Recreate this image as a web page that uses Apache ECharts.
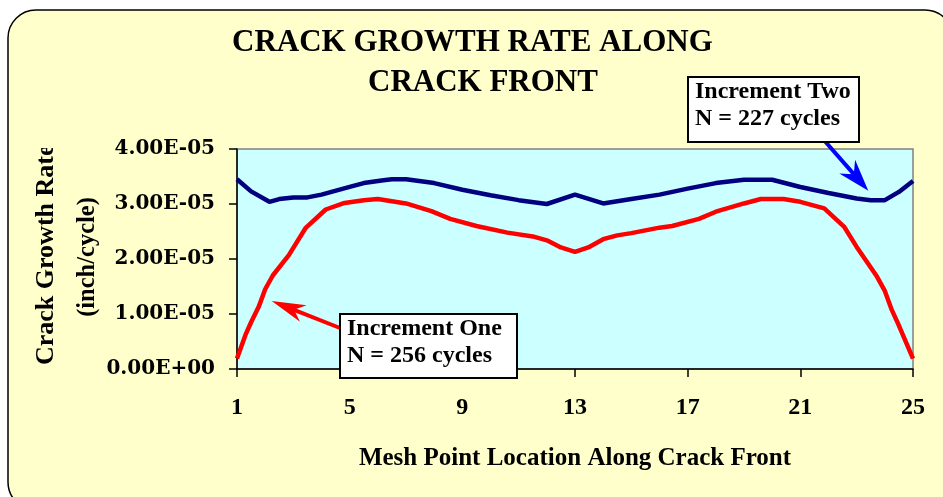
<!DOCTYPE html>
<html>
<head>
<meta charset="utf-8">
<script src="https://cdn.jsdelivr.net/npm/echarts@6/dist/echarts.min.js"></script>
<style>
  html, body { margin: 0; padding: 0; background: #ffffff; }
  #chart { width: 943px; height: 497px; }
</style>
</head>
<body>
<div id="chart"></div>
<script>
// ---- data ----
const xTickLabels = [1, 5, 9, 13, 17, 21, 25];

// Increment Two (N = 227 cycles)
const blueX = [1, 1.5, 2.15, 2.5, 3, 3.5, 4, 5, 5.5, 6.2, 6.5, 7, 8, 9, 10, 11, 12, 13, 14, 15, 16, 17, 18, 19, 20, 21, 22, 23, 23.5, 24, 24.5, 25];
const blueY = [3.45e-5, 3.23e-5, 3.04e-5, 3.09e-5, 3.12e-5, 3.12e-5, 3.17e-5, 3.31e-5, 3.38e-5, 3.43e-5, 3.45e-5, 3.45e-5, 3.38e-5, 3.26e-5, 3.16e-5, 3.07e-5, 3.00e-5, 3.17e-5, 3.01e-5, 3.09e-5, 3.17e-5, 3.28e-5, 3.38e-5, 3.44e-5, 3.44e-5, 3.31e-5, 3.20e-5, 3.10e-5, 3.07e-5, 3.07e-5, 3.22e-5, 3.42e-5];

// Increment One (N = 256 cycles)
const redX = [1, 1.3, 1.5, 1.77, 2, 2.27, 2.84, 3.43, 4.15, 4.82, 5.5, 6, 7, 7.9, 8.57, 9.5, 10.6, 11.5, 12, 12.5, 13, 13.47, 14, 14.5, 15, 16, 16.45, 17.4, 18, 19, 19.6, 20.4, 21, 21.85, 22.55, 23, 23.72, 24, 24.25, 24.5, 25];
const redY = [0.19e-5, 0.62e-5, 0.85e-5, 1.13e-5, 1.45e-5, 1.70e-5, 2.07e-5, 2.56e-5, 2.90e-5, 3.02e-5, 3.07e-5, 3.09e-5, 3.01e-5, 2.87e-5, 2.73e-5, 2.60e-5, 2.48e-5, 2.41e-5, 2.34e-5, 2.21e-5, 2.13e-5, 2.21e-5, 2.36e-5, 2.43e-5, 2.47e-5, 2.57e-5, 2.60e-5, 2.73e-5, 2.86e-5, 3.01e-5, 3.09e-5, 3.09e-5, 3.04e-5, 2.92e-5, 2.59e-5, 2.22e-5, 1.68e-5, 1.42e-5, 1.07e-5, 0.79e-5, 0.19e-5];

// ---- helpers ----
function zip(xs, ys) { return xs.map((x, i) => [x, ys[i]]); }
function sciFmt(v) {
  return Number(v).toExponential(2).replace(/e([+-])(\d)$/, 'E$10$2').replace(/e([+-])(\d\d)$/, 'E$1$2');
}
function arrow(x1, y1, x2, y2, color, headLen, halfW, notch, width) {
  const dx = x2 - x1, dy = y2 - y1, L = Math.hypot(dx, dy);
  const ux = dx / L, uy = dy / L, nx = -uy, ny = ux;
  const bx = x2 - ux * headLen, by = y2 - uy * headLen;
  const mx = x2 - ux * notch, my = y2 - uy * notch;
  return [
    { type: 'line', z: 50, shape: { x1: x1, y1: y1, x2: mx + ux * 2, y2: my + uy * 2 },
      style: { stroke: color, lineWidth: width } },
    { type: 'polygon', z: 50, shape: { points: [[x2, y2], [bx + nx * halfW, by + ny * halfW], [mx, my], [bx - nx * halfW, by - ny * halfW]] },
      style: { fill: color } }
  ];
}
function noteBox(x, y, w, h, lines) {
  return [
    { type: 'rect', z: 60, shape: { x: x, y: y, width: w, height: h },
      style: { fill: '#ffffff', stroke: '#000000', lineWidth: 2 } },
    { type: 'text', z: 61, x: x + 7, y: y + 15,
      style: { text: lines[0], font: 'bold 24px "Liberation Serif"', fill: '#000', verticalAlign: 'middle', align: 'left' } },
    { type: 'text', z: 61, x: x + 7, y: y + 42,
      style: { text: lines[1], font: 'bold 24px "Liberation Serif"', fill: '#000', verticalAlign: 'middle', align: 'left' } }
  ];
}

const chart = echarts.init(document.getElementById('chart'), null, { renderer: 'canvas' });

const graphics = [
  { type: 'rect', z: -10, shape: { x: 8, y: 10, width: 945, height: 500, r: 28 },
    style: { fill: '#FFFFCC', stroke: '#000000', lineWidth: 1.5 } },
  // y axis title (two lines, first one clipped at the top like the original)
  { type: 'text', z: 40, x: 46, y: 365, rotation: Math.PI / 2,
    style: { text: 'Crack Growth Rate', font: 'bold 26px "Liberation Serif"', fill: '#000', align: 'left', verticalAlign: 'middle' } },
  { type: 'rect', z: 41, shape: { x: 25, y: 110, width: 45, height: 38 },
    style: { fill: '#FFFFCC' } },
  { type: 'text', z: 40, x: 88, y: 257, rotation: Math.PI / 2,
    style: { text: '(inch/cycle)', font: 'bold 24.5px "Liberation Serif"', fill: '#000', align: 'center', verticalAlign: 'middle' } }
]
  .concat(arrow(340, 328, 271.7, 301, '#FF0000', 34, 9, 24, 4))
  .concat(arrow(823, 139, 868.3, 190.7, '#0000FF', 32, 10.5, 22, 4))
  .concat(noteBox(340, 314, 177, 64, ['Increment One', 'N = 256 cycles']))
  .concat(noteBox(688, 77, 171, 65, ['Increment Two', 'N = 227 cycles']));

const option = {
  backgroundColor: 'transparent',
  animation: false,
  title: [
    { text: 'CRACK GROWTH RATE ALONG', left: 232, top: 27, padding: 0,
      textStyle: { fontFamily: 'Liberation Serif', fontWeight: 'bold', fontSize: 31, color: '#000' } },
    { text: 'CRACK FRONT', left: 368, top: 67, padding: 0,
      textStyle: { fontFamily: 'Liberation Serif', fontWeight: 'bold', fontSize: 31, color: '#000' } }
  ],
  grid: {
    left: 237, right: 30, top: 149, bottom: 128,
    show: true, backgroundColor: '#CCFFFF', borderColor: '#808080', borderWidth: 1.5
  },
  xAxis: {
    type: 'value', min: 1, max: 25,
    name: 'Mesh Point Location Along Crack Front',
    nameLocation: 'middle', nameGap: 77,
    nameTextStyle: { fontFamily: 'Liberation Serif', fontWeight: 'bold', fontSize: 25, color: '#000' },
    axisLine: { show: true, onZero: false, lineStyle: { color: '#000', width: 1.5 } },
    axisTick: { show: true, inside: false, length: 8, customValues: xTickLabels, lineStyle: { color: '#000', width: 1.5 } },
    axisLabel: { customValues: xTickLabels, margin: 27, fontFamily: 'Liberation Serif', fontWeight: 'bold', fontSize: 24, color: '#000' },
    splitLine: { show: false }
  },
  yAxis: {
    type: 'value', min: 0, max: 4e-5, interval: 1e-5,
    axisLine: { show: true, lineStyle: { color: '#000', width: 1.5 } },
    axisTick: { show: true, inside: false, length: 8, lineStyle: { color: '#000', width: 1.5 } },
    axisLabel: { margin: 22, padding: [6, 0, 0, 0], formatter: sciFmt, fontFamily: 'DejaVu Serif', fontWeight: 'bold', fontSize: 20, color: '#000' },
    splitLine: { show: false }
  },
  series: [
    { name: 'Increment One', type: 'line', data: zip(redX, redY), showSymbol: false, symbol: 'none',
      lineStyle: { color: '#FF0000', width: 4.5 }, itemStyle: { color: '#FF0000' }, z: 3 },
    { name: 'Increment Two', type: 'line', data: zip(blueX, blueY), showSymbol: false, symbol: 'none',
      lineStyle: { color: '#000080', width: 4.5 }, itemStyle: { color: '#000080' }, z: 3 }
  ],
  graphic: graphics
};
chart.setOption(option);
</script>
</body>
</html>
